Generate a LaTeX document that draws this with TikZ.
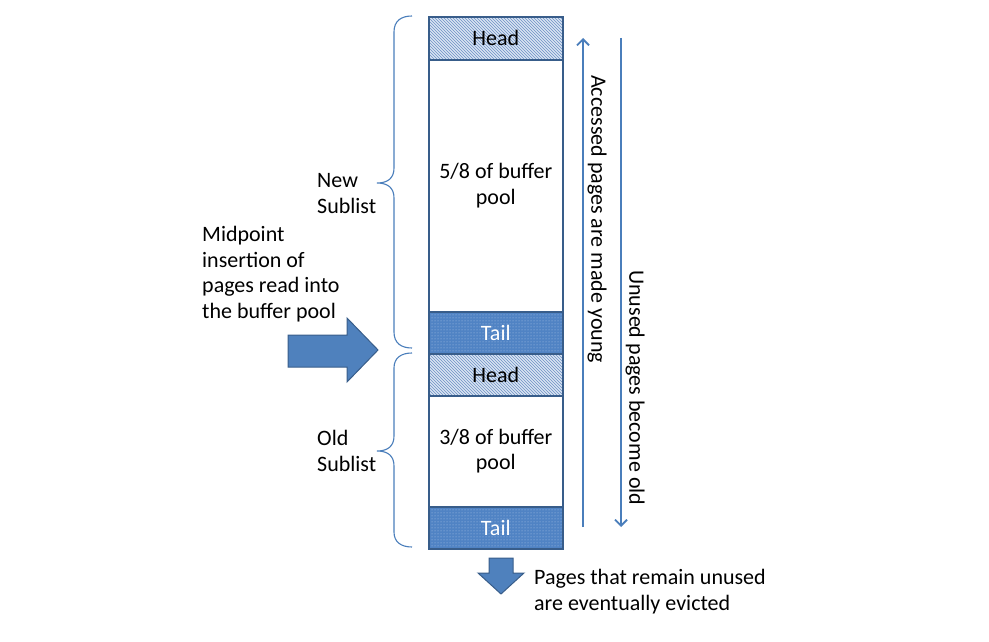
\documentclass[tikz,border=0pt]{standalone}
\usepackage{fontspec}
\setmainfont{Carlito}
\usetikzlibrary{patterns,arrows.meta}
\definecolor{boxline}{HTML}{385D8A}
\definecolor{accent}{HTML}{4F81BD}
\definecolor{headfill}{HTML}{D9E4F2}
\definecolor{headline}{HTML}{6C90C4}
\definecolor{tailfill}{HTML}{5083C4}
\definecolor{taildot}{HTML}{B0C8E8}
\definecolor{linecol}{HTML}{4A7EBB}
\begin{document}
\begin{tikzpicture}[x=1pt,y=-1pt,
  font=\fontsize{22}{25.5}\selectfont,
  cell/.style={draw=boxline, line width=1.6pt, minimum width=134pt, inner sep=0pt, anchor=north west, align=center},
  headcell/.style={cell, preaction={fill=headfill}, pattern=north west lines, pattern color=headline},
  tailcell/.style={cell, preaction={fill=tailfill}, pattern=dots, pattern color=taildot, text=white},
  plaincell/.style={cell, fill=white},
  label/.style={inner sep=0pt, anchor=base west, align=left},
  vlabel/.style={inner sep=0pt, rotate=-90, anchor=west},
  flow/.style={draw=linecol, line width=1.8pt, -{Straight Barb[length=6pt,width=12pt,line width=1.8pt]}},
  bracestyle/.style={draw=linecol, line width=1.1pt},
  blockarrow/.style={fill=accent, draw=boxline, line width=1pt, line join=miter}
]
\useasboundingbox (0,0) rectangle (989,642);

% column
\node[headcell, minimum height=43pt] (head1) at (428,16) {Head};
\node[plaincell, minimum height=252pt] (newpool) at (428,59) {5/8 of buffer\\pool};
\node[tailcell, minimum height=42pt] (tail1) at (428,311) {Tail};
\node[headcell, minimum height=42pt] (head2) at (428,353) {Head};
\node[plaincell, minimum height=111pt] (oldpool) at (428,395) {3/8 of buffer\\pool};
\node[tailcell, minimum height=42pt] (tail2) at (428,506) {Tail};

% braces
\draw[bracestyle] (412,16) .. controls (401,16) and (394,21) .. (394,32)
  -- (394,168) .. controls (394,178) and (388,183) .. (377,183)
  .. controls (388,183) and (394,188) .. (394,198)
  -- (394,332) .. controls (394,343) and (401,348) .. (412,348);
\draw[bracestyle] (412,353) .. controls (401,353) and (394,358) .. (394,368)
  -- (394,436) .. controls (394,446) and (388,451) .. (377,451)
  .. controls (388,451) and (394,456) .. (394,466)
  -- (394,532) .. controls (394,542) and (401,547) .. (412,547);

% labels (base = baseline of last line)
\node[label] (newlbl) at (317,213) {New\\Sublist};
\node[label] (oldlbl) at (317,471) {Old\\Sublist};
\node[label] (midlbl) at (202,318) {Midpoint\\insertion of\\pages read into\\the buffer pool};
\node[label] (evlbl) at (534,610) {Pages that remain unused\\are eventually evicted};

% block arrows
\draw[blockarrow] (288,335) -- (347,335) -- (347,318) -- (378,350) -- (347,382) -- (347,367) -- (288,367) -- cycle;
\draw[blockarrow] (489,558) -- (513,558) -- (513,573) -- (524,573) -- (501,594) -- (478,573) -- (489,573) -- cycle;

% flow arrows
\coordinate (upS) at (583,527);
\coordinate (upE) at (583,38);
\coordinate (dnS) at (621,38);
\coordinate (dnE) at (621,527);
\draw[flow] (upS) -- (upE);
\draw[flow] (dnS) -- (dnE);
\node[vlabel] (acclbl) at (597,75) {Accessed pages are made young};
\node[vlabel] (unulbl) at (635,270) {Unused pages become old};
\end{tikzpicture}
\end{document}
